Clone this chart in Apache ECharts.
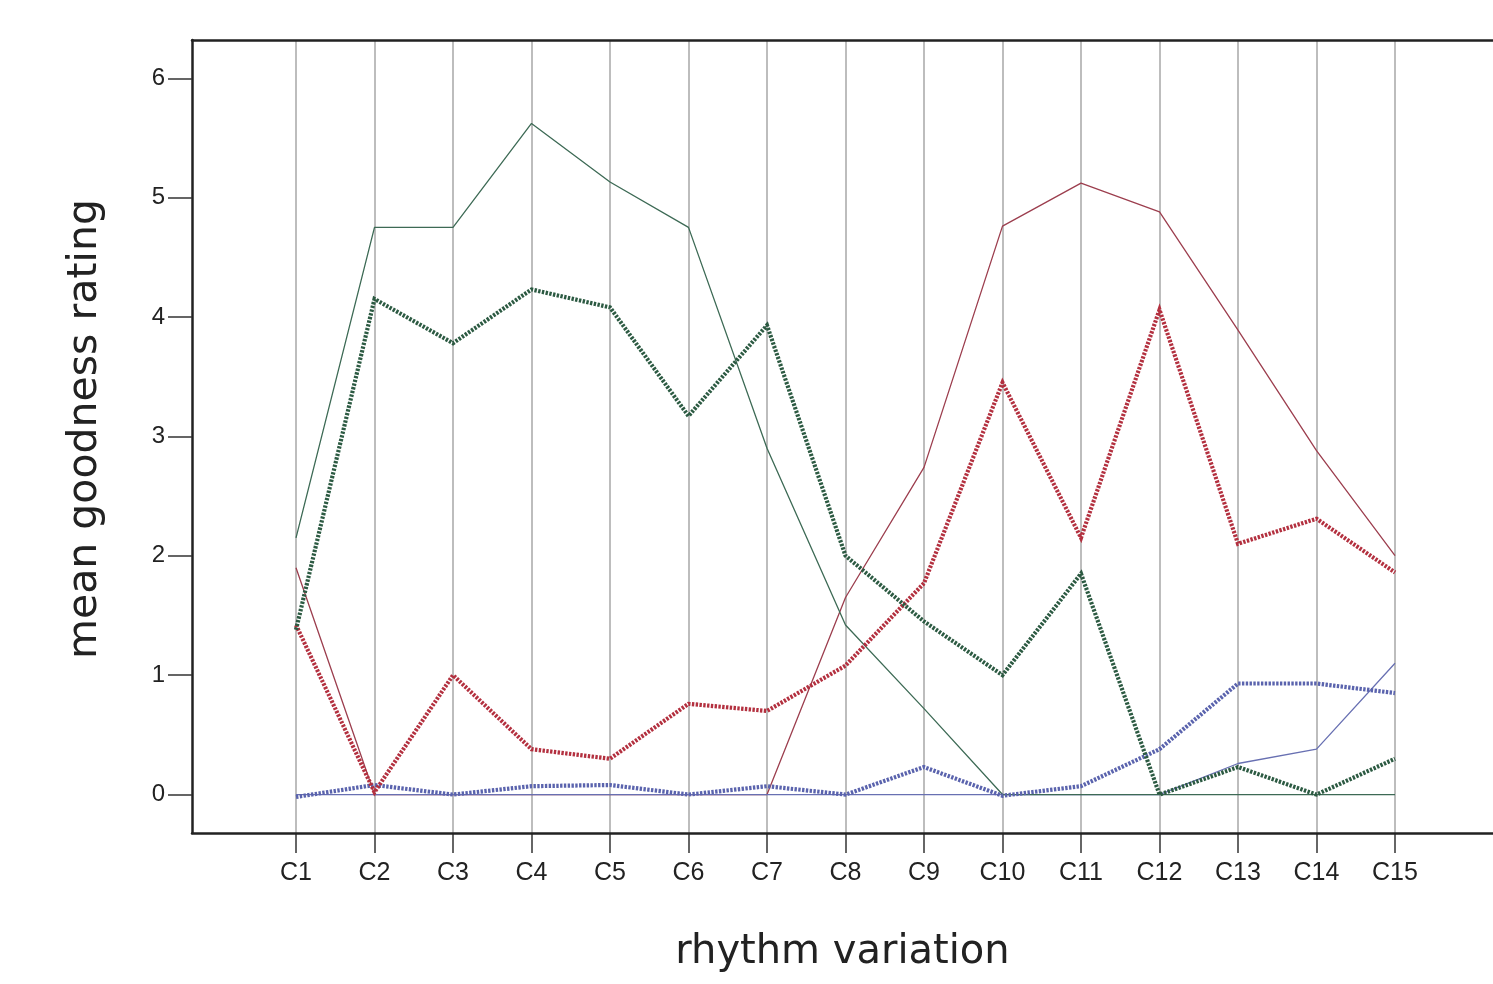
<!DOCTYPE html>
<html>
<head>
<meta charset="utf-8">
<title>mean goodness rating by rhythm variation</title>
<script src="https://cdn.jsdelivr.net/npm/echarts@6.0.0/dist/echarts.min.js"></script>
<style>
  html, body { margin: 0; padding: 0; background: #ffffff; }
  #chart { width: 1493px; height: 984px; }
</style>
</head>
<body>
<div id="chart"></div>
<script>
// Rhythm variations on the horizontal axis
const categories = ['C1','C2','C3','C4','C5','C6','C7','C8','C9','C10','C11','C12','C13','C14','C15'];

// Rating ticks on the vertical axis
const yTicks = [0, 1, 2, 3, 4, 5, 6];

// Thin solid profiles
const thinGreen = [2.15, 4.75, 4.75, 5.62, 5.13, 4.75, 2.90, 1.42, 0.72, 0, 0, 0, 0, 0, 0];
const thinRed   = [1.90, 0, 0, 0, 0, 0, 0, 1.65, 2.74, 4.76, 5.12, 4.88, 3.89, 2.88, 2.00];
const thinBlue  = [0, 0, 0, 0, 0, 0, 0, 0, 0, 0, 0, 0, 0.26, 0.38, 1.10];

// Heavy dotted profiles
const thickGreen = [1.38, 4.15, 3.78, 4.23, 4.08, 3.17, 3.93, 2.00, 1.45, 1.00, 1.85, 0, 0.23, 0, 0.30];
const thickRed   = [1.42, 0.02, 1.00, 0.38, 0.30, 0.76, 0.70, 1.08, 1.77, 3.45, 2.15, 4.06, 2.10, 2.31, 1.86];
const thickBlue  = [-0.02, 0.08, 0, 0.07, 0.08, 0, 0.07, 0, 0.23, -0.01, 0.07, 0.38, 0.93, 0.93, 0.85];

const FONT = 'Liberation Sans';
const TITLE_FONT = 'DejaVu Sans';
const INK = '#222222';

function thinLine(name, data, color, z) {
  return {
    name, type: 'line', data, xAxisIndex: 0, yAxisIndex: 0,
    showSymbol: false, silent: true, z,
    lineStyle: { color, width: 1.3 }
  };
}
function dottedLine(name, data, color) {
  return {
    name, type: 'line', data, xAxisIndex: 0, yAxisIndex: 0,
    showSymbol: false, silent: true, z: 6,
    lineStyle: { color, width: 4.2, type: [2.4, 1.4], cap: 'butt', join: 'miter' }
  };
}

const hiddenParts = {
  axisTick: { show: false }, axisLabel: { show: false }, splitLine: { show: false }
};

const chart = echarts.init(document.getElementById('chart'), null, { renderer: 'canvas' });

chart.setOption({
  animation: false,
  backgroundColor: '#ffffff',
  grid: [
    // plotting area: first and last variation sit on its edges
    { left: 296, right: 98, top: 40, bottom: 151, outerBoundsMode: 'none' },
    // frame: left, top and bottom rules
    { left: 192, right: 0, top: 40, bottom: 151, outerBoundsMode: 'none' },
    // rating scale
    { left: 192, width: 20, top: 78.5, bottom: 189.5, outerBoundsMode: 'none' },
    // thin strip just under the bottom rule holding the variation tick marks
    { left: 296, right: 98, top: 833, height: 20, outerBoundsMode: 'none' }
  ],
  xAxis: [
    {
      gridIndex: 0, type: 'category', data: categories, boundaryGap: false,
      position: 'bottom',
      axisLine: { show: false, onZero: false },
      axisTick: { show: false },
      axisLabel: { fontFamily: FONT, fontSize: 25, color: INK, margin: 28, interval: 0 },
      splitLine: { show: true, interval: 0, lineStyle: { color: '#bdbdbd', width: 2 } }
    },
    Object.assign({
      gridIndex: 1, type: 'value', min: 0, max: 1, position: 'bottom',
      axisLine: { show: true, onZero: false, lineStyle: { color: INK, width: 2.5 } },
      name: 'rhythm variation', nameLocation: 'middle', nameGap: 100,
      nameTextStyle: { fontFamily: TITLE_FONT, fontSize: 40, color: INK }
    }, hiddenParts),
    Object.assign({
      gridIndex: 1, type: 'value', min: 0, max: 1, position: 'top',
      axisLine: { show: true, onZero: false, lineStyle: { color: INK, width: 2.5 } }
    }, hiddenParts),
    Object.assign({
      gridIndex: 2, type: 'value', min: 0, max: 1, position: 'bottom',
      axisLine: { show: false, onZero: false }
    }, hiddenParts),
    {
      // tick marks drawn as the split lines of the strip
      gridIndex: 3, type: 'category', data: categories, boundaryGap: false,
      axisLine: { show: false, onZero: false },
      axisTick: { show: false },
      axisLabel: { show: false },
      splitLine: { show: true, interval: 0, lineStyle: { color: '#333333', width: 1.5 } }
    }
  ],
  yAxis: [
    {
      gridIndex: 0, type: 'value', min: -0.322, max: 6.319, show: false
    },
    Object.assign({
      gridIndex: 1, type: 'value', min: 0, max: 1, position: 'left',
      axisLine: { show: true, onZero: false, lineStyle: { color: INK, width: 2.5 } }
    }, hiddenParts),
    {
      gridIndex: 2, type: 'value', min: yTicks[0], max: yTicks[yTicks.length - 1], interval: 1,
      position: 'left',
      axisLine: { show: false, onZero: false },
      axisTick: { show: true, length: 24, lineStyle: { color: '#333333', width: 1.5 } },
      axisLabel: { fontFamily: FONT, fontSize: 24, color: INK, margin: 27 },
      splitLine: { show: false }
    },
    Object.assign({
      gridIndex: 3, type: 'value', min: 0, max: 1,
      axisLine: { show: false, onZero: false }
    }, hiddenParts)
  ],
  graphic: [
    {
      type: 'text', x: 85, y: 429, rotation: Math.PI / 2,
      style: {
        text: 'mean goodness rating', font: '41px "' + TITLE_FONT + '"', fill: INK,
        align: 'center', verticalAlign: 'middle'
      }
    }
  ],
  series: [
    thinLine('thin red', thinRed, '#9c3e4e', 3),
    thinLine('thin blue', thinBlue, '#6870b2', 4),
    thinLine('thin green', thinGreen, '#3d6a55', 5),
    dottedLine('dotted blue', thickBlue, '#5a63ad'),
    dottedLine('dotted red', thickRed, '#b3303f'),
    dottedLine('dotted green', thickGreen, '#2c5a42')
  ]
});
</script>
</body>
</html>
